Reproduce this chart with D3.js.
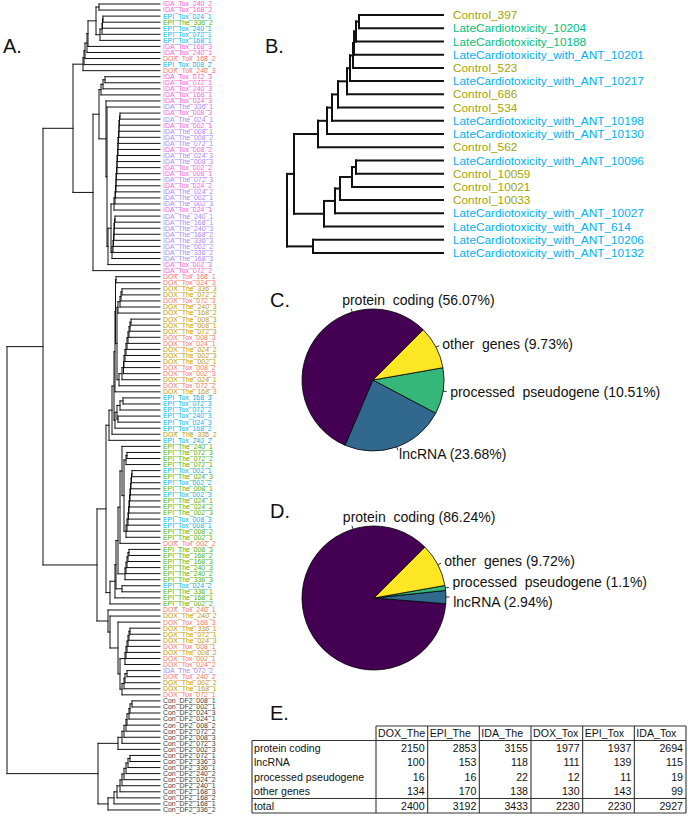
<!DOCTYPE html>
<html><head><meta charset="utf-8">
<script src="https://cdn.jsdelivr.net/npm/d3@7"></script>
<style>body{margin:0;background:#fff}svg{display:block}</style>
</head><body>
<script>
// ---------- helpers to write dendrograms as Newick (node:height) ----------
function ch(items, hs){ let s = items[0]; for(let i=1;i<items.length;i++) s = `(${s},${items[i]}):${hs[i-1]}`; return s; }
function parseNewick(str){
  const s = str.replace(/\s+/g,""); let i = 0;
  function node(){
    if(s[i]==="("){ i++; const children=[node()]; while(s[i]===","){ i++; children.push(node()); } i++;
      let h=0; if(s[i]===":"){ i++; const j=i; while(i<s.length && /[0-9.]/.test(s[i])) i++; h=+s.slice(j,i); }
      return {children, height:h}; }
    const j=i; while(i<s.length && !/[,():]/.test(s[i])) i++; return {name:s.slice(j,i), height:0};
  }
  return node();
}

// ---------- Panel A data: hierarchical clustering of samples ----------
const A_P1 = "(IDA_Tox_240_2,IDA_Tox_168_2):0.61";
const A_P2 = ch(["EPI_Tox_024_1","EPI_The_336_2","EPI_Tox_240_1","EPI_Tox_072_1","EPI_Tox_168_1"],[0.57,0.575,0.58,0.60]);
const A_G1 = ch([`(${A_P1},${A_P2}):0.64`,"IDA_Tox_168_3","IDA_Tox_240_1","DOX_Tox_168_2","EPI_Tox_008_2","DOX_Tox_240_3"],[0.72,0.73,0.75,0.76,0.77]);
const A_C13 = ch(["IDA_Tox_072_3","IDA_Tox_072_1","IDA_Tox_240_3","IDA_Tox_168_1"],[0.55,0.57,0.59]);
const A_S19 = ch(["IDA_Tox_008_3","IDA_The_024_1","IDA_Tox_002_1","IDA_The_008_1","IDA_The_008_2","IDA_The_072_1","IDA_Tox_008_2","IDA_The_024_3","IDA_The_008_3","IDA_Tox_002_2","IDA_Tox_008_1","IDA_The_072_3","IDA_Tox_024_2","IDA_The_024_2","IDA_The_002_1","IDA_The_002_3","IDA_Tox_024_1"],
  [0.40,0.405,0.41,0.41,0.415,0.42,0.42,0.425,0.43,0.43,0.435,0.44,0.44,0.445,0.45,0.46]);
const A_S36 = ch(["IDA_The_240_1","IDA_The_168_1","IDA_The_240_3","IDA_The_168_2","IDA_The_336_3","IDA_The_002_2","IDA_The_336_2","IDA_The_168_3"],[0.45,0.455,0.46,0.46,0.465,0.47,0.48]);
const A_IDA = `((${A_C13},(IDA_Tox_024_3,(IDA_The_336_1,((${A_S19},${A_S36}):0.49,IDA_Tox_002_3):0.52):0.53):0.54):0.61,IDA_Tox_072_2):0.67`;
const A_C48 = ch(["DOX_The_336_3","DOX_The_072_2","DOX_Tox_072_3","DOX_The_240_3","DOX_The_168_2"],[0.38,0.39,0.40,0.42]);
const A_S53 = ch(["DOX_The_008_3","DOX_The_008_1","DOX_The_072_3","DOX_Tox_008_3","DOX_Tox_024_1","DOX_The_024_2","DOX_The_002_3","DOX_The_002_1","DOX_Tox_008_2","DOX_Tox_002_3","DOX_The_024_1","DOX_Tox_072_2"],
  [0.29,0.30,0.31,0.32,0.33,0.34,0.35,0.36,0.365,0.38,0.41]);
const A_D1 = ch(["(DOX_Tox_168_1,DOX_Tox_024_3):0.44",`(${A_C48},${A_S53}):0.43`,"DOX_The_168_3"],[0.445,0.45]);
const A_E1 = ch([`(${ch(["EPI_Tox_168_3","EPI_Tox_072_3","EPI_Tox_072_2"],[0.37,0.40])},(EPI_Tox_240_3,EPI_Tox_024_3):0.42):0.43`,"EPI_Tox_168_2"],[0.45]);
const A_U = ch([`(${A_D1},${A_E1}):0.46`,"DOX_The_336_2","EPI_Tox_240_2"],[0.48,0.51]);
const A_T75 = ch(["EPI_The_072_3","EPI_The_072_2","EPI_The_072_1"],[0.33,0.34]);
const A_S78 = ch(["EPI_Tox_002_1","EPI_The_024_3","EPI_Tox_002_2","EPI_The_008_1","EPI_Tox_002_3","EPI_The_024_1","EPI_The_024_2","EPI_The_002_3","EPI_Tox_008_3","EPI_Tox_008_1","EPI_The_008_2","EPI_The_002_1"],
  [0.28,0.285,0.29,0.295,0.30,0.305,0.31,0.315,0.32,0.33,0.34]);
const A_S91 = ch(["EPI_The_008_3","EPI_The_168_2","EPI_The_168_3","EPI_The_240_3","EPI_The_240_2","EPI_The_336_3"],[0.31,0.32,0.33,0.34,0.35]);
const A_L = ch([`(EPI_The_240_1,(${A_T75},${A_S78}):0.36):0.38`,"DOX_Tox_002_2",A_S91,"(EPI_Tox_024_2,EPI_The_336_1):0.38","EPI_The_168_1","EPI_The_002_2"],[0.40,0.42,0.44,0.45,0.50]);
const A_DX = ch(["DOX_The_336_1","DOX_The_072_1","DOX_The_024_3","DOX_Tox_008_1","DOX_The_008_2","DOX_Tox_002_1","DOX_Tox_024_2"],[0.30,0.31,0.32,0.33,0.34,0.35]);
const A_DX2 = ch(["IDA_The_072_2","DOX_Tox_240_2","DOX_The_002_2","DOX_The_168_1","DOX_Tox_072_1"],[0.33,0.35,0.36,0.38]);
const A_LOW = `(DOX_Tox_240_1,(DOX_The_240_2,(DOX_Tox_168_3,(${A_DX},${A_DX2}):0.40):0.42):0.50):0.52`;
const A_CONa = ch(["Con_DF2_008_1","Con_DF2_002_1","Con_DF2_024_3","Con_DF2_024_1","Con_DF2_008_2","Con_DF2_072_2","Con_DF2_008_3","Con_DF2_072_3","Con_DF2_002_3"],[0.28,0.30,0.31,0.33,0.34,0.36,0.38,0.42]);
const A_CONb = ch(["Con_DF2_072_1","Con_DF2_336_3","Con_DF2_336_1","Con_DF2_240_2","Con_DF2_024_2","Con_DF2_240_1","Con_DF2_168_3","Con_DF2_168_2","Con_DF2_168_1","Con_DF2_336_2"],[0.30,0.32,0.34,0.36,0.38,0.40,0.43,0.46,0.52]);
const A_CON = `(${A_CONa},${A_CONb}):0.62`;
const treeA = `(((${A_G1},${A_IDA}):0.87,((${A_U},${A_L}):0.54,${A_LOW}):0.63):1.17,${A_CON}):1.53`;
const groupsA = ["DOX_Tox","DOX_The","EPI_The","Con_DF2","EPI_Tox","IDA_The","IDA_Tox"];
const groupColorsA = ["#F8766D","#C49A00","#53B400","#3a3a3a","#00B6EB","#A58AFF","#FB61D7"];

// ---------- Panel B data ----------
const treeB = "((((((((((((Control_397,LateCardiotoxicity_10204):0.84,LateCardiotoxicity_10188):0.87,LateCardiotoxicity_with_ANT_10201):0.89,Control_523):0.90,LateCardiotoxicity_with_ANT_10217):0.93,Control_686):0.96,Control_534):1.05,LateCardiotoxicity_with_ANT_10198):1.11,LateCardiotoxicity_with_ANT_10130):1.16,Control_562):1.25,(((((LateCardiotoxicity_with_ANT_10096,Control_10059):0.87,Control_10021):0.91,Control_10033):1.03,LateCardiotoxicity_with_ANT_10027):1.08,LateCardiotoxicity_with_ANT_614):1.19):1.49,(LateCardiotoxicity_with_ANT_10206,LateCardiotoxicity_with_ANT_10132):1.30):1.56";
const groupsB = ["Control","LateCardiotoxicity","LateCardiotoxicity_with_ANT"];
const groupColorsB = ["#A3A500","#00BF7D","#00B0F6"];

// ---------- Panels C/D data ----------
const pieCategories = ["protein coding","lncRNA","processed pseudogene","other genes"];
const pieC = [56.07, 23.68, 10.51, 9.73];
const pieD = [86.24, 2.94, 1.1, 9.72];
const pieColors = ["#440154","#31688E","#35B779","#FDE725"];

// ---------- Panel E data ----------
const tableCols = ["DOX_The","EPI_The","IDA_The","DOX_Tox","EPI_Tox","IDA_Tox"];
const tableRows = ["protein coding","lncRNA","processed pseudogene","other genes"];
const tableValues = [[2150,2853,3155,1977,1937,2694],[100,153,118,111,139,115],[16,16,22,12,11,19],[134,170,138,130,143,99]];
const tableTotals = [2400,3192,3433,2230,2230,2927];

// ================= drawing =================
const W = 688, H = 834;
const FONT = "'Liberation Sans', Arial, Helvetica, sans-serif";
const svg = d3.select("body").append("svg").attr("width",W).attr("height",H)
  .style("font-family",FONT);

function dendro(newick, xRange, yRange, strokeW, labelX, fontSize, colorOf){
  const root = d3.hierarchy(parseNewick(newick));
  const leaves = root.leaves();
  const x = d3.scaleLinear().domain([root.data.height,0]).range(xRange);
  const y = d3.scalePoint().domain(leaves.map(d=>d.data.name)).range(yRange);
  leaves.forEach(l=>l.py = y(l.data.name));
  root.eachAfter(n=>{ if(n.children) n.py = (n.children[0].py + n.children[n.children.length-1].py)/2; });
  const g = svg.append("g");
  const segs = [];
  root.each(n=>{
    if(!n.children) return;
    const nx = x(n.data.height);
    segs.push([nx, n.children[0].py, nx, n.children[n.children.length-1].py]);
    n.children.forEach(c=>segs.push([nx, c.py, x(c.data.height), c.py]));
  });
  g.selectAll("line").data(segs).join("line")
    .attr("x1",d=>d[0]).attr("y1",d=>d[1]).attr("x2",d=>d[2]).attr("y2",d=>d[3])
    .attr("stroke","#111").attr("stroke-width",strokeW).attr("stroke-linecap","square");
  g.selectAll("text").data(leaves).join("text")
    .attr("x",labelX).attr("y",d=>d.py).attr("dy","0.35em")
    .attr("font-size",fontSize).attr("fill",d=>colorOf(d.data.name))
    .text(d=>d.data.name);
}

// Panel A
const colA = d3.scaleOrdinal().domain(groupsA).range(groupColorsA);
const nA = parseNewick(treeA);
const countLeaves = t => t.children ? t.children.reduce((s,c)=>s+countLeaves(c),0) : 1;
const nLeavesA = countLeaves(nA);
dendro(treeA, [7,160], [4, 4 + (nLeavesA-1)*6.06], 1, 163, "6.9px", nm=>colA(nm.slice(0,7)));

// Panel B
const colB = d3.scaleOrdinal().domain(groupsB).range(groupColorsB);
dendro(treeB, [287,443], [15,253], 2, 453, "11.8px",
  nm=> nm.startsWith("Control") ? colB("Control") : nm.includes("with_ANT") ? colB("LateCardiotoxicity_with_ANT") : colB("LateCardiotoxicity"));

// Pies
function drawPie(values, cx, cy, r){
  const pie = d3.pie().sort(null).startAngle(Math.PI/4).endAngle(Math.PI/4 - 2*Math.PI);
  const arcs = pie(values);
  const arc = d3.arc().innerRadius(0).outerRadius(r);
  const g = svg.append("g").attr("transform",`translate(${cx},${cy})`);
  g.selectAll("path").data(arcs).join("path").attr("d",arc)
    .attr("fill",(d,i)=>pieColors[i]).attr("stroke","#000").attr("stroke-width",0.8);
  const labs = arcs.map((a,i)=>{
    const ang = i===0 ? a.startAngle - 62*Math.PI/180 : (a.startAngle + a.endAngle)/2;
    const s = Math.sin(ang), c = Math.cos(ang);
    return {i, s, c, x: 1.1*r*s, y: -1.1*r*c, ty: -1.1*r*c,
      text: `${pieCategories[i].replace(" ","  ")} (${values[i]}%)`};
  });
  const right = labs.filter(l=>l.i!==0).sort((a,b)=>a.y-b.y);
  for(let k=1;k<right.length;k++){
    const gap = right[k].ty - right[k-1].ty;
    if(gap < 20){ const m = (right[k].ty + right[k-1].ty)/2; right[k-1].ty = m-10; right[k].ty = m+10; }
  }
  g.selectAll("line").data(labs).join("line")
    .attr("x1",d=>r*d.s).attr("y1",d=>-r*d.c).attr("x2",d=>1.05*r*d.s).attr("y2",d=>-1.05*r*d.c)
    .attr("stroke","#000").attr("stroke-width",0.8);
  g.selectAll("text").data(labs).join("text")
    .attr("x",d=> d.i===0 ? d.x-8 : d.x).attr("y",d=> d.i===0 ? d.ty-5 : d.ty).attr("dy","0.35em")
    .attr("font-size","14px").style("white-space","pre").attr("fill","#111")
    .text(d=>d.text);
}
drawPie(pieC, 373, 380, 71);
drawPie(pieD, 374, 598, 72);

// Table
(function(){
  const g = svg.append("g").attr("font-size","10.6px").attr("fill","#111");
  const colX = d3.scaleBand().domain(tableCols).range([376,686]);
  const rowY = d3.scaleBand().domain(["__hdr", ...tableRows, "total"]).range([726,813]);
  const left = 252, right = 686, ls = "#333";
  const line = (x1,y1,x2,y2)=>g.append("line").attr("x1",x1).attr("y1",y1).attr("x2",x2).attr("y2",y2).attr("stroke",ls).attr("stroke-width",1.1);
  const hy0 = rowY("__hdr"), hy1 = hy0 + rowY.bandwidth();
  const by1 = rowY("total") + rowY.bandwidth();
  line(376,hy0,right,hy0);
  line(left,hy1,right,hy1);
  line(left,rowY("total"),right,rowY("total"));
  line(left,by1,right,by1);
  line(left,hy1,left,by1);
  tableCols.forEach(c=>line(colX(c),hy0,colX(c),by1));
  line(right,hy0,right,by1);
  tableCols.forEach(c=>g.append("text").attr("x",colX(c)+2).attr("y",hy0+rowY.bandwidth()/2).attr("dy","0.36em").text(c));
  tableRows.concat(["total"]).forEach((r,ri)=>{
    const yy = rowY(r)+rowY.bandwidth()/2;
    g.append("text").attr("x",left+2).attr("y",yy).attr("dy","0.36em").text(r);
    const vals = ri<tableRows.length ? tableValues[ri] : tableTotals;
    vals.forEach((v,ci)=>g.append("text").attr("x",colX(tableCols[ci])+colX.bandwidth()-3).attr("y",yy).attr("dy","0.36em").attr("text-anchor","end").text(v));
  });
})();

// Panel letters
[["A.",3,53],["B.",265,53],["C.",270,307],["D.",270,518],["E.",270,720]].forEach(([t,x,y])=>
  svg.append("text").attr("x",x).attr("y",y).attr("font-size","20px").attr("fill","#111").text(t));
</script>
</body></html>
